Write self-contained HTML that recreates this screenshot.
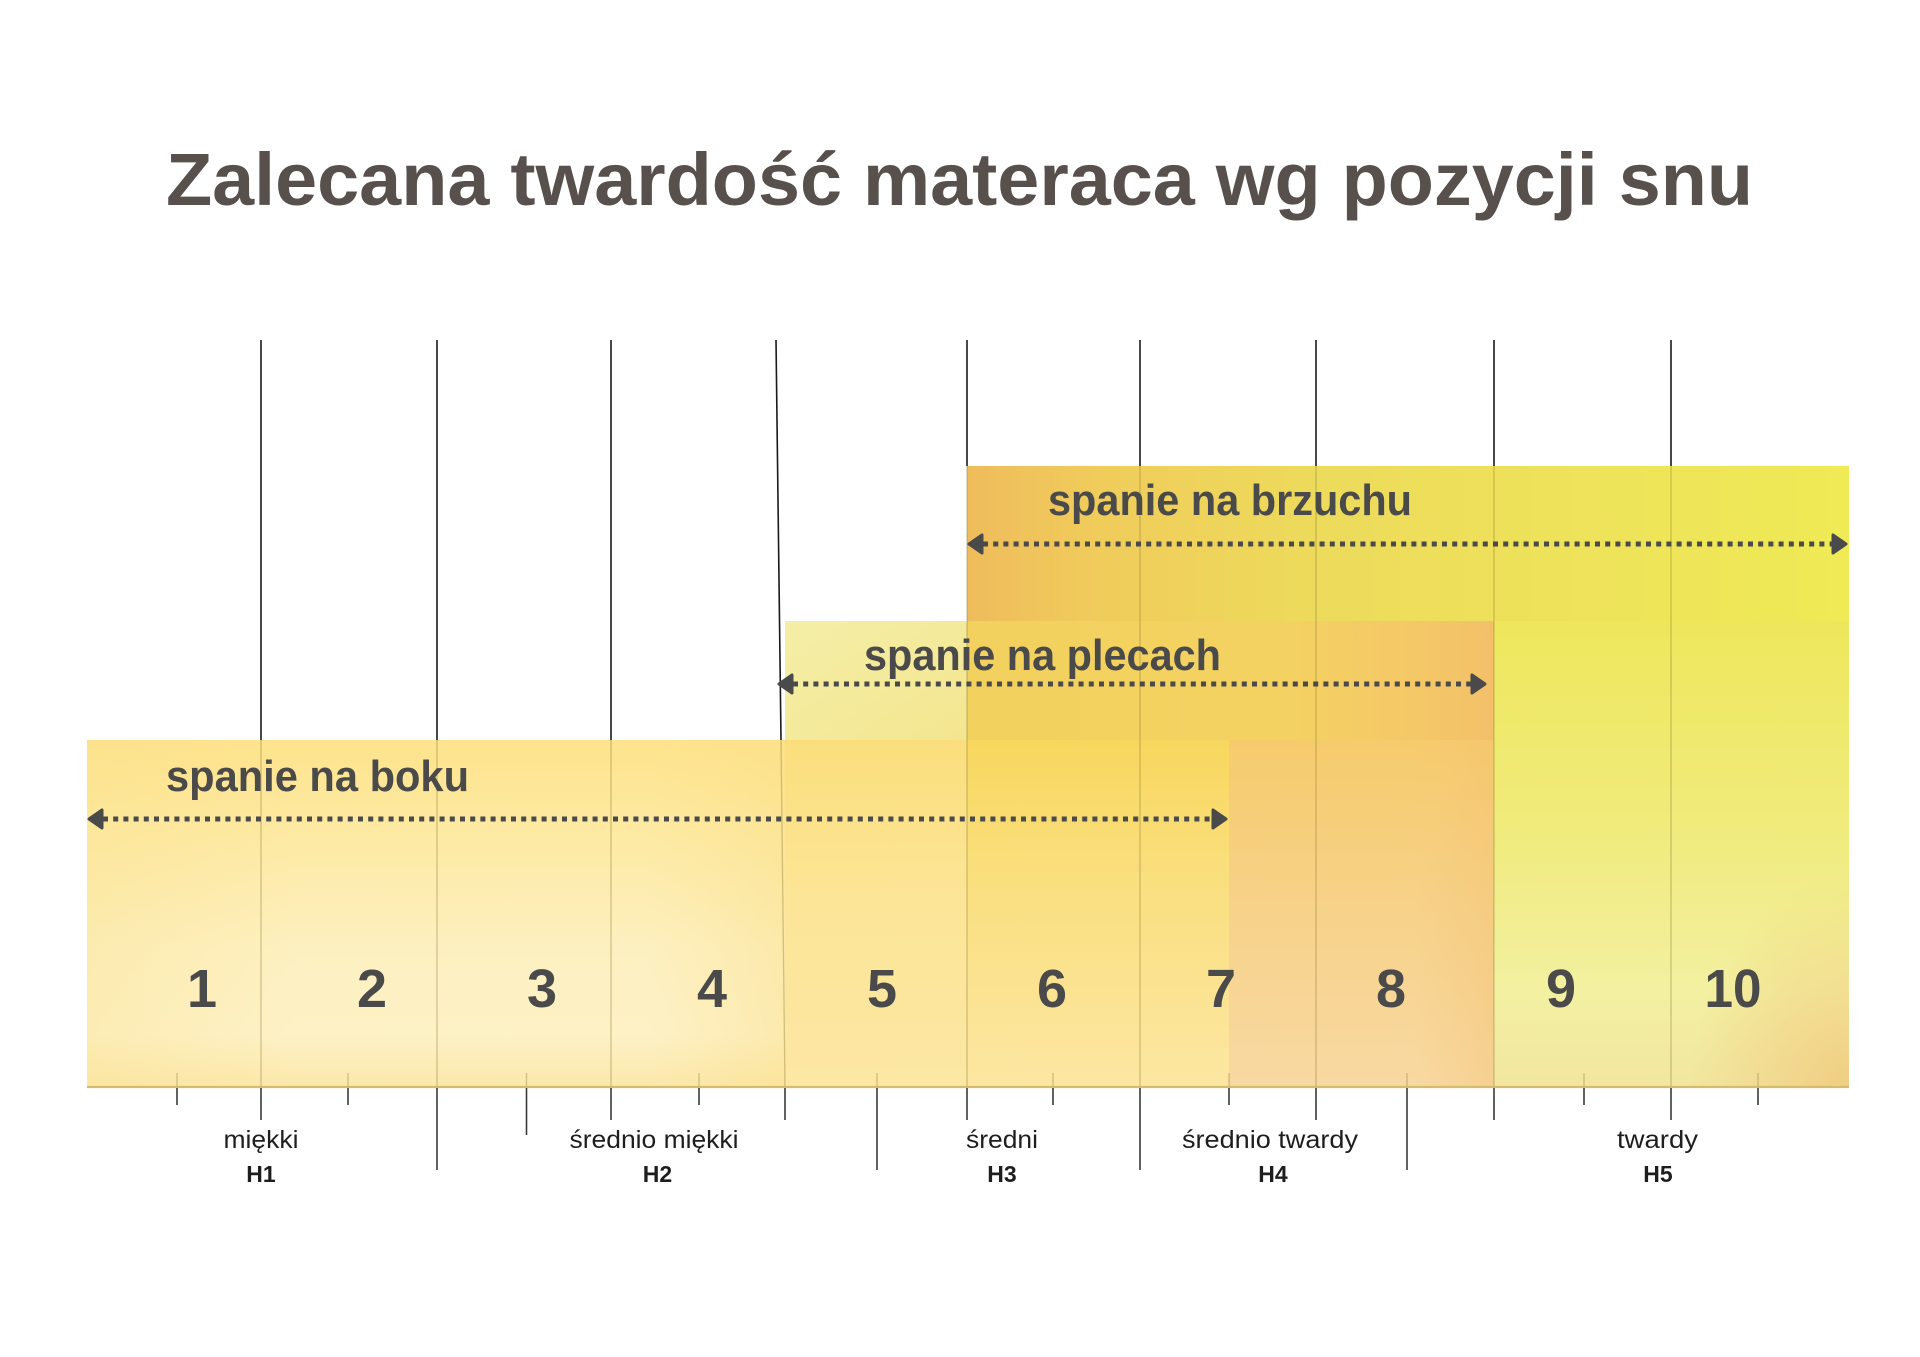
<!DOCTYPE html>
<html lang="pl">
<head>
<meta charset="utf-8">
<title>Zalecana twardość materaca wg pozycji snu</title>
<style>
  html,body{margin:0;padding:0;background:#ffffff;}
  body{width:1920px;height:1357px;overflow:hidden;}
  svg{display:block;}
  .t{font-family:"Liberation Sans",Arial,sans-serif;}
</style>
</head>
<body>
<svg width="1920" height="1357" viewBox="0 0 1920 1357" xmlns="http://www.w3.org/2000/svg">
  <defs>
    <linearGradient id="gA" x1="0" y1="0" x2="0" y2="1">
      <stop offset="0" stop-color="#fde38c"/>
      <stop offset="0.25" stop-color="#fde9a1"/>
      <stop offset="0.6" stop-color="#fdf0c0"/>
      <stop offset="0.85" stop-color="#fdf1c6"/>
      <stop offset="1" stop-color="#fbe8aa"/>
    </linearGradient>
    <linearGradient id="gAh" x1="0" y1="0" x2="1" y2="0">
      <stop offset="0" stop-color="#fbe08a" stop-opacity="0.3"/>
      <stop offset="0.3" stop-color="#fbe08a" stop-opacity="0"/>
      <stop offset="0.8" stop-color="#fbe08a" stop-opacity="0"/>
      <stop offset="1" stop-color="#fbdd80" stop-opacity="0.35"/>
    </linearGradient>
    <linearGradient id="gB" x1="0" y1="0" x2="1" y2="1">
      <stop offset="0" stop-color="#f4eea6"/>
      <stop offset="1" stop-color="#f4e690"/>
    </linearGradient>
    <linearGradient id="gC" x1="0" y1="0" x2="0" y2="1">
      <stop offset="0" stop-color="#fbde7c"/>
      <stop offset="0.45" stop-color="#fce596"/>
      <stop offset="1" stop-color="#fce7a4"/>
    </linearGradient>
    <linearGradient id="gD" x1="0" y1="0" x2="1" y2="0">
      <stop offset="0" stop-color="#efbc5c"/>
      <stop offset="0.15" stop-color="#f0cc5b"/>
      <stop offset="0.4" stop-color="#eddb5b"/>
      <stop offset="0.7" stop-color="#eee35a"/>
      <stop offset="1" stop-color="#efea55"/>
    </linearGradient>
    <linearGradient id="gE" x1="0" y1="0" x2="1" y2="0">
      <stop offset="0" stop-color="#f2d15e"/>
      <stop offset="0.6" stop-color="#f4d262"/>
      <stop offset="0.85" stop-color="#f5c867"/>
      <stop offset="1" stop-color="#f3c069"/>
    </linearGradient>
    <linearGradient id="gF" x1="0" y1="0" x2="0" y2="1">
      <stop offset="0" stop-color="#f8d75e"/>
      <stop offset="0.4" stop-color="#fadf7e"/>
      <stop offset="1" stop-color="#fce6a2"/>
    </linearGradient>
    <linearGradient id="gG" x1="0" y1="0" x2="0" y2="1">
      <stop offset="0" stop-color="#f6cb6c"/>
      <stop offset="0.5" stop-color="#f7d28a"/>
      <stop offset="1" stop-color="#f8d9a2"/>
    </linearGradient>
    <linearGradient id="gGh" x1="0" y1="0" x2="1" y2="0">
      <stop offset="0" stop-color="#f4c478" stop-opacity="0"/>
      <stop offset="0.7" stop-color="#f4c478" stop-opacity="0"/>
      <stop offset="1" stop-color="#f2bf70" stop-opacity="0.35"/>
    </linearGradient>
    <linearGradient id="gH" x1="0" y1="0" x2="0" y2="1">
      <stop offset="0" stop-color="#eee75c"/>
      <stop offset="0.45" stop-color="#f0eb7c"/>
      <stop offset="0.8" stop-color="#f3f0a2"/>
      <stop offset="1" stop-color="#f2e6a0"/>
    </linearGradient>
    <radialGradient id="gHc" cx="1" cy="1" r="0.45">
      <stop offset="0" stop-color="#f0c67a" stop-opacity="0.75"/>
      <stop offset="1" stop-color="#f0c67a" stop-opacity="0"/>
    </radialGradient>
  </defs>

  <!-- Title -->
  <text class="t" x="166" y="205" font-size="74" font-weight="bold" fill="#57504c" textLength="1587" lengthAdjust="spacingAndGlyphs">Zalecana twardość materaca wg pozycji snu</text>

  <!-- Vertical lines above boxes -->
  <g stroke="#1a1a1a" stroke-width="1.6" fill="none">
    <line x1="261" y1="340" x2="261" y2="740"/>
    <line x1="437" y1="340" x2="437" y2="740"/>
    <line x1="611" y1="340" x2="611" y2="740"/>
    <polyline points="776,340 781,740"/>
    <line x1="967" y1="340" x2="967" y2="466"/>
    <line x1="1140" y1="340" x2="1140" y2="466"/>
    <line x1="1316" y1="340" x2="1316" y2="466"/>
    <line x1="1494" y1="340" x2="1494" y2="466"/>
    <line x1="1671" y1="340" x2="1671" y2="466"/>
  </g>

  <!-- Colored regions -->
  <rect x="87" y="740" width="698" height="347" fill="url(#gA)"/>
  <rect x="87" y="740" width="698" height="347" fill="url(#gAh)"/>
  <rect x="785" y="621" width="182" height="119" fill="url(#gB)"/>
  <rect x="785" y="740" width="182" height="347" fill="url(#gC)"/>
  <rect x="967" y="466" width="882" height="155" fill="url(#gD)"/>
  <rect x="967" y="621" width="527" height="119" fill="url(#gE)"/>
  <rect x="967" y="740" width="262" height="347" fill="url(#gF)"/>
  <rect x="1229" y="740" width="265" height="347" fill="url(#gG)"/>
  <rect x="1229" y="740" width="265" height="347" fill="url(#gGh)"/>
  <rect x="1494" y="621" width="355" height="466" fill="url(#gH)"/>
  <rect x="1494" y="621" width="355" height="466" fill="url(#gHc)"/>

  <!-- faint lines inside boxes -->
  <g stroke="#8a7a30" stroke-opacity="0.38" stroke-width="1.3" fill="none">
    <line x1="261" y1="740" x2="261" y2="1087"/>
    <line x1="437" y1="740" x2="437" y2="1087"/>
    <line x1="611" y1="740" x2="611" y2="1087"/>
    <polyline points="781,740 785,1087"/>
    <line x1="967" y1="466" x2="967" y2="1087"/>
    <line x1="1140" y1="466" x2="1140" y2="1087"/>
    <line x1="1316" y1="466" x2="1316" y2="1087"/>
    <line x1="1494" y1="466" x2="1494" y2="1087"/>
    <line x1="1671" y1="466" x2="1671" y2="1087"/>
    <line x1="177" y1="1073" x2="177" y2="1087"/>
    <line x1="348" y1="1073" x2="348" y2="1087"/>
    <line x1="526.5" y1="1073" x2="526.5" y2="1087"/>
    <line x1="699" y1="1073" x2="699" y2="1087"/>
    <line x1="877" y1="1073" x2="877" y2="1087"/>
    <line x1="1053" y1="1073" x2="1053" y2="1087"/>
    <line x1="1229" y1="1073" x2="1229" y2="1087"/>
    <line x1="1407" y1="1073" x2="1407" y2="1087"/>
    <line x1="1584" y1="1073" x2="1584" y2="1087"/>
    <line x1="1758" y1="1073" x2="1758" y2="1087"/>
  </g>

  <!-- bottom border -->
  <line x1="87" y1="1087" x2="1849" y2="1087" stroke="#d5bb6c" stroke-width="2.2"/>

  <!-- ticks below -->
  <g stroke="#3a3a3a" stroke-width="1.6" fill="none">
    <line x1="261" y1="1088" x2="261" y2="1120"/>
    <line x1="437" y1="1088" x2="437" y2="1170"/>
    <line x1="611" y1="1088" x2="611" y2="1120"/>
    <line x1="785" y1="1088" x2="785" y2="1120"/>
    <line x1="967" y1="1088" x2="967" y2="1120"/>
    <line x1="1140" y1="1088" x2="1140" y2="1170"/>
    <line x1="1316" y1="1088" x2="1316" y2="1120"/>
    <line x1="1494" y1="1088" x2="1494" y2="1120"/>
    <line x1="1671" y1="1088" x2="1671" y2="1120"/>
    <line x1="177" y1="1088" x2="177" y2="1105"/>
    <line x1="348" y1="1088" x2="348" y2="1105"/>
    <line x1="526.5" y1="1088" x2="526.5" y2="1135"/>
    <line x1="699" y1="1088" x2="699" y2="1105"/>
    <line x1="877" y1="1088" x2="877" y2="1170"/>
    <line x1="1053" y1="1088" x2="1053" y2="1105"/>
    <line x1="1229" y1="1088" x2="1229" y2="1105"/>
    <line x1="1407" y1="1088" x2="1407" y2="1170"/>
    <line x1="1584" y1="1088" x2="1584" y2="1105"/>
    <line x1="1758" y1="1088" x2="1758" y2="1105"/>
  </g>

  <!-- Section labels -->
  <g class="t" font-weight="bold" font-size="44" fill="#4a4a4a">
    <text x="1048" y="515" textLength="364" lengthAdjust="spacingAndGlyphs">spanie na brzuchu</text>
    <text x="864" y="670" textLength="357" lengthAdjust="spacingAndGlyphs">spanie na plecach</text>
    <text x="166" y="791" textLength="303" lengthAdjust="spacingAndGlyphs">spanie na boku</text>
  </g>

  <!-- Dotted arrows -->
  <g stroke="#4a4a4a" stroke-width="5" stroke-dasharray="5 5.2" fill="none">
    <line x1="103" y1="819" x2="1213" y2="819"/>
    <line x1="793" y1="684" x2="1472" y2="684"/>
    <line x1="983" y1="544" x2="1832" y2="544"/>
  </g>
  <g fill="#4a4a4a" stroke="#4a4a4a" stroke-width="3" stroke-linejoin="round">
    <path d="M89,819 L102,810 L102,828 Z"/>
    <path d="M1226,819 L1213,810 L1213,828 Z"/>
    <path d="M779,684 L792,675 L792,693 Z"/>
    <path d="M1485,684 L1472,675 L1472,693 Z"/>
    <path d="M969,544 L982,535 L982,553 Z"/>
    <path d="M1846,544 L1833,535 L1833,553 Z"/>
  </g>

  <!-- Numbers -->
  <g class="t" font-weight="bold" font-size="54" fill="#4a4a4a" text-anchor="middle">
    <text x="202" y="1007">1</text>
    <text x="372" y="1007">2</text>
    <text x="542" y="1007">3</text>
    <text x="712" y="1007">4</text>
    <text x="882" y="1007">5</text>
    <text x="1052" y="1007">6</text>
    <text x="1221" y="1007">7</text>
    <text x="1391" y="1007">8</text>
    <text x="1561" y="1007">9</text>
    <text x="1733" y="1007" textLength="57" lengthAdjust="spacingAndGlyphs">10</text>
  </g>

  <!-- Bottom labels -->
  <g class="t" font-size="25" fill="#1e1e1e">
    <text x="223.5" y="1148" textLength="75" lengthAdjust="spacingAndGlyphs">miękki</text>
    <text x="569.5" y="1148" textLength="169" lengthAdjust="spacingAndGlyphs">średnio miękki</text>
    <text x="966" y="1148" textLength="72" lengthAdjust="spacingAndGlyphs">średni</text>
    <text x="1182" y="1148" textLength="176" lengthAdjust="spacingAndGlyphs">średnio twardy</text>
    <text x="1617" y="1148" textLength="81" lengthAdjust="spacingAndGlyphs">twardy</text>
  </g>
  <g class="t" font-size="23" font-weight="bold" fill="#1e1e1e" text-anchor="middle">
    <text x="261" y="1182">H1</text>
    <text x="657.5" y="1182">H2</text>
    <text x="1002" y="1182">H3</text>
    <text x="1273" y="1182">H4</text>
    <text x="1658" y="1182">H5</text>
  </g>
</svg>
</body>
</html>
